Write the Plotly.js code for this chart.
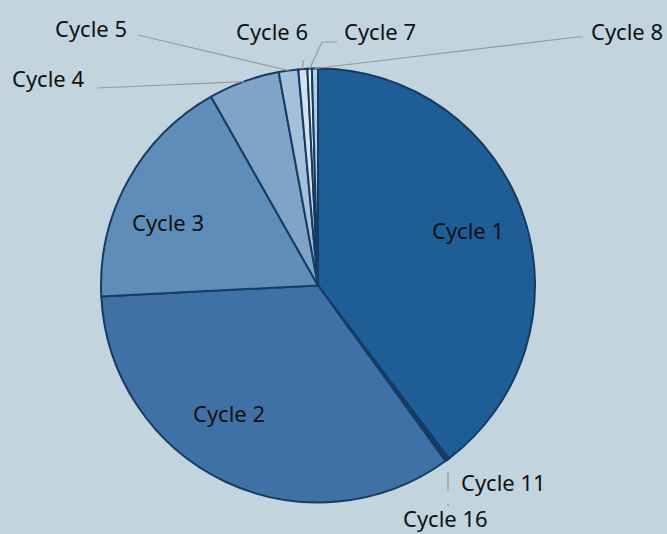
<!DOCTYPE html>
<html>
<head>
<meta charset="utf-8">
<script src="https://cdn.plot.ly/plotly-3.0.1.min.js"></script>
<style>html,body{margin:0;padding:0;background:#c2d4de;}</style>
</head>
<body>
<div id="chart" style="width:667px;height:534px;"></div>
<script>
// Data (order as drawn, clockwise from 12 o'clock)
const labels = ['Cycle 1','Cycle 11','Cycle 16','Cycle 2','Cycle 3','Cycle 4','Cycle 5','Cycle 6','Cycle 7','Cycle 8'];
const values = [39.7, 0.15, 0.15, 34.2, 17.6, 5.3, 1.45, 0.67, 0.33, 0.45];
const colors = ['#1f5d97','#b0704a','#3d7060','#4071a6','#5f8dba','#7fa4c8','#a4c0da','#d4e2ef','#eef3f8','#b9cde2'];

const W = 667, H = 534;
const dom = {x:[101/W, 535/W], y:[(248.5-217)/H, (248.5+217)/H]};
const cx = (dom.x[0]+dom.x[1])/2*W, cy = H - (dom.y[0]+dom.y[1])/2*H;
const R = Math.min((dom.x[1]-dom.x[0])*W, (dom.y[1]-dom.y[0])*H)/2;

// edge point at middle of slice i (pixel coords)
const total = values.reduce((a,b)=>a+b,0);
function edge(i){
  let cum = 0; for(let k=0;k<i;k++) cum += values[k];
  const th = (cum + values[i]/2)/total*2*Math.PI;
  return [cx + R*Math.sin(th), cy - R*Math.cos(th)];
}
const px = (x)=>x/W, py=(y)=>1-y/H;

// label positions (pixels) - layout
const labelPos = {
  'Cycle 1':[468,230],'Cycle 2':[229,413],'Cycle 3':[168,222],
  'Cycle 4':[48,78],'Cycle 5':[91,28],'Cycle 6':[272,31],'Cycle 7':[380,31],
  'Cycle 8':[627,31],'Cycle 11':[503,482],'Cycle 16':[445,518]
};
const annotations = labels.map(l=>({
  text:l, x:px(labelPos[l][0]), y:py(labelPos[l][1]), xref:'paper', yref:'paper',
  showarrow:false, xanchor:'center', yanchor:'middle',
  font:{family:'Noto Sans, sans-serif', size:22, color:'#111111'}
}));

function path(pts){ return pts.map((p,i)=>(i?'L':'M')+px(p[0]).toFixed(5)+','+py(p[1]).toFixed(5)).join(' '); }
const lineStyle = {color:'#9a9a9a', width:1.2};
const leaders = [
  [[97,88], edge(5)],
  [[138,35], edge(6)],
  [[303,60], edge(7)],
  [[337,42],[322,42], edge(8)],
  [[583,37],[577,37], edge(9)],
  [[448,472],[448,491]],
  [[448,504],[448,506]]
];
const shapes = leaders.map(pts=>({type:'path', xref:'paper', yref:'paper', path:path(pts), line:lineStyle}));

const trace = {
  type:'pie', labels:labels, values:values, sort:false, direction:'clockwise', rotation:0,
  marker:{colors:colors, line:{color:'#163c63', width:2}},
  textinfo:'none', hoverinfo:'label+percent', showlegend:false,
  domain:dom
};
Plotly.newPlot('chart',[trace],{
  width:W, height:H, margin:{l:0,r:0,t:0,b:0},
  paper_bgcolor:'#c2d4de', plot_bgcolor:'#c2d4de',
  annotations:annotations, shapes:shapes, showlegend:false
},{displayModeBar:false, staticPlot:true});
</script>
</body>
</html>
